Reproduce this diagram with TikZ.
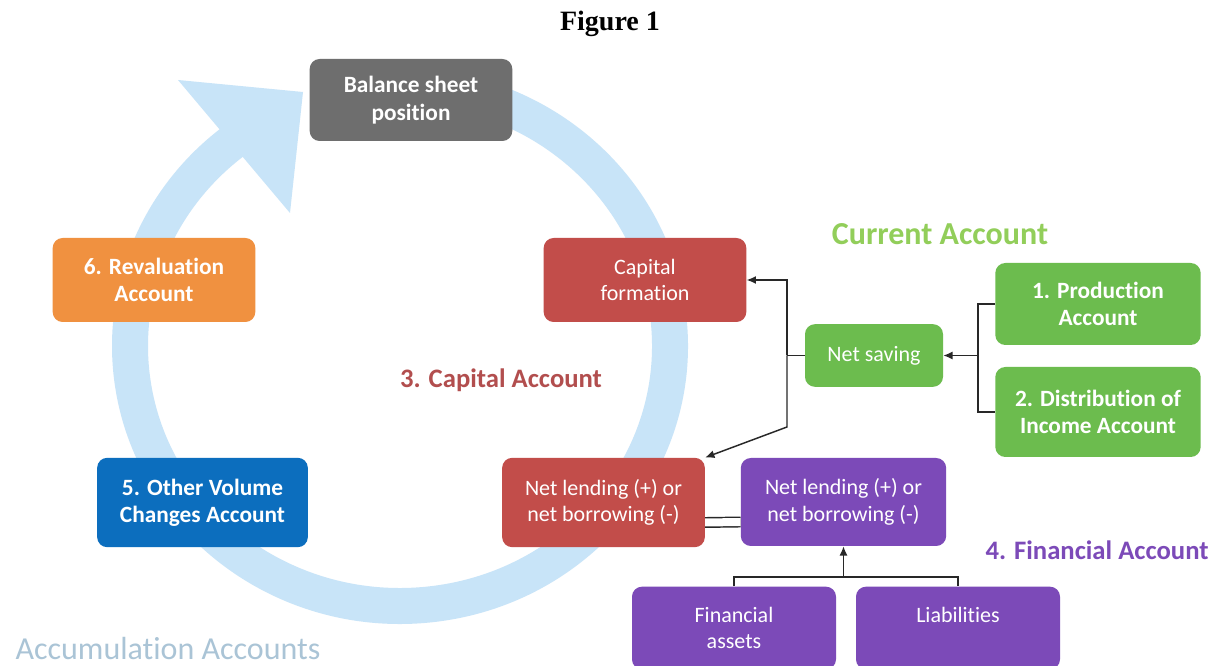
\documentclass[tikz,border=0pt]{standalone}
\usepackage{fontspec}
\setmainfont{Carlito}[Ligatures=CommonOff]
\newfontfamily\titlefont{Liberation Serif}
\usetikzlibrary{arrows.meta,positioning}

\definecolor{ringblue}{RGB}{200,228,248}
\definecolor{boxgray}{RGB}{110,110,110}
\definecolor{boxorange}{RGB}{240,145,64}
\definecolor{boxred}{RGB}{194,77,74}
\definecolor{boxgreen}{RGB}{108,188,78}
\definecolor{boxblue}{RGB}{12,110,190}
\definecolor{boxpurple}{RGB}{124,74,184}
\definecolor{curgreen}{RGB}{146,206,90}
\definecolor{capred}{RGB}{178,78,78}
\definecolor{accblue}{RGB}{170,196,214}
\definecolor{linegray}{RGB}{40,40,40}

\tikzset{
  box/.style={draw=none, rounded corners=7.5pt, minimum width=152pt, minimum height=63pt,
    inner sep=0pt, align=center, text=white, font=\fontsize{16.5}{20}\selectfont},
  hbox/.style={box, font=\fontsize{17.5}{20.5}\selectfont\bfseries},
  link/.style={draw=linegray, line width=1.1pt},
  heading/.style={font=\fontsize{20}{24}\selectfont\bfseries}
}

\begin{document}
\begin{tikzpicture}[x=0.75pt, y=-0.75pt, >={Latex[length=7pt,width=6pt]}]
  \useasboundingbox (0,0) rectangle (1215,666);
  \clip (0,0) rectangle (1215,666);
  \fill[white] (0,0) rectangle (1215,666);

  % the accumulation cycle
  \draw[ringblue, line width=27pt] ([shift={(-95:270 and 260)}]400,346)
    arc[start angle=-95, end angle=234, x radius=270, y radius=260];
  \fill[ringblue] (178,80) -- (303,92) -- (290,213) -- cycle;

  \node[font=\titlefont\bfseries\fontsize{21}{25}\selectfont] (title) at (610,24) {Figure 1};

  \node[hbox, fill=boxgray, minimum height=61.5pt] (bal) at (411,100) {Balance sheet\\position};
  \node[hbox, fill=boxorange] (reval) at (154,280) {6. Revaluation\\Account};
  \node[box, fill=boxred] (capform) at (645,280) {Capital\\formation};
  \node[hbox, fill=boxblue, minimum width=158pt, minimum height=67pt] (other) at (202.5,502.5) {5. Other Volume\\Changes Account};
  \node[box, fill=boxred, minimum height=67pt] (nlA) at (603.5,502.5) {Net lending (+) or\\net borrowing (-)};
  \node[box, fill=boxpurple, minimum width=154pt, minimum height=66pt] (nlB) at (843.5,502) {Net lending (+) or\\net borrowing (-)};

  % current account
  \node[heading, font=\fontsize{24}{28}\selectfont\bfseries, text=curgreen] (curlbl) at (940,234) {Current Account};
  \node[hbox, fill=boxgreen, minimum width=154pt, minimum height=61.5pt] (prod) at (1098,304) {1. Production\\Account};
  \node[box, fill=boxgreen, minimum width=103.5pt, minimum height=47pt] (netsav) at (874,355.5) {Net saving};
  \node[hbox, fill=boxgreen, minimum width=154pt, minimum height=67.5pt] (dist) at (1098,412) {2. Distribution of\\Income Account};

  % financial account
  \node[heading, text=boxpurple] (finlbl) at (1097,550) {4. Financial Account};
  \node[box, fill=boxpurple, minimum width=153pt, minimum height=62pt] (finass) at (734,628) {Financial\\assets};
  \node[box, fill=boxpurple, minimum width=153pt, minimum height=62pt] (liab) at (958,628) {Liabilities\\\phantom{assets}};

  \node[heading, text=capred] (caplbl) at (501,380) {3. Capital Account};
  \node[font=\fontsize{24}{28}\selectfont, text=accblue] (acclbl) at (168,649) {Accumulation Accounts};

  % connectors
  \coordinate (jl) at (787,0);
  \coordinate (bend) at (787,427);
  \coordinate (jr) at (978,0);
  \coordinate (fb) at (0,577);

  \draw[link] (netsav.west) -- (netsav.west -| jl);
  \draw[link,->] (netsav.west -| jl) |- (capform.east);
  \draw[link,->] (netsav.west -| jl) -- (bend) -- (nlA.north east);

  \draw[link] (prod.west) -- (prod.west -| jr) -- (dist.west -| jr) -- (dist.west);
  \draw[link,->] (netsav.east -| jr) -- (netsav.east);

  \draw[link, double, double distance=6pt] ([yshift=-15pt]nlA.east) -- ([yshift=-15pt]nlB.west);

  \draw[link] (finass.north) -- (finass.north |- fb) -- (liab.north |- fb) -- (liab.north);
  \draw[link,->] (nlB.south |- fb) -- (nlB.south);
\end{tikzpicture}
\end{document}
